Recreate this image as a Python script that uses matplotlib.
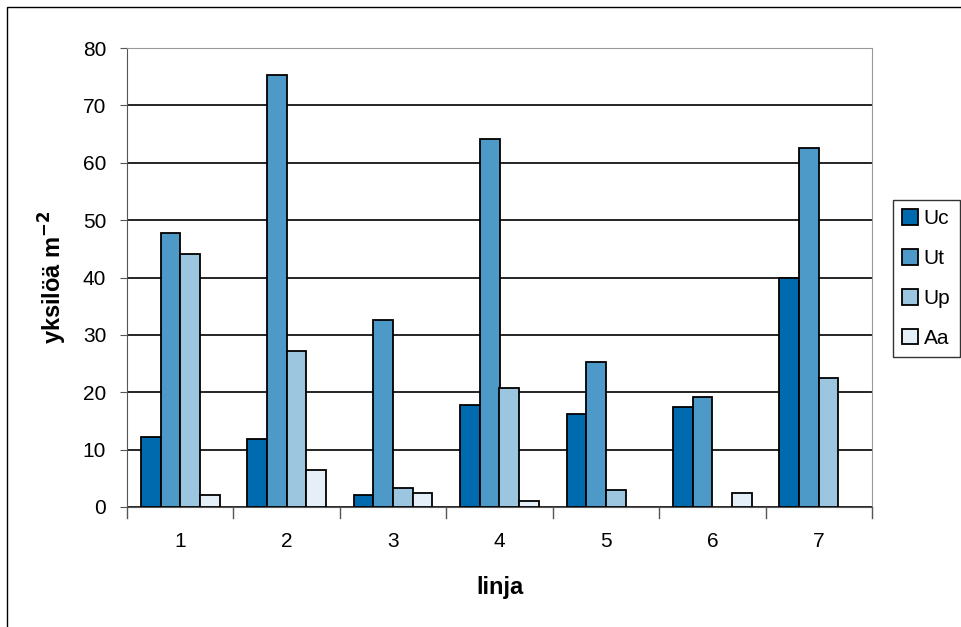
import numpy as np
import matplotlib.pyplot as plt
from matplotlib.patches import Rectangle

plt.rcParams['font.family'] = ['Liberation Sans', 'DejaVu Sans']

linjat = ["1", "2", "3", "4", "5", "6", "7"]
series = ["Uc", "Ut", "Up", "Aa"]
uc = [12.2, 11.8, 2.1, 17.8, 16.2, 17.4, 39.9]
ut = [47.7, 75.3, 32.6, 64.1, 25.3, 19.2, 62.5]
up = [44.1, 27.2, 3.3, 20.7, 3.0, 0.0, 22.5]
aa = [2.1, 6.4, 2.4, 1.0, 0.0, 2.4, 0.0]
colors = ["#006AAE", "#4D9AC8", "#9CC5E0", "#E4EFF7"]

fig = plt.figure(figsize=(9.62, 6.27), dpi=100)
ax = fig.add_axes([127 / 962, 1 - 507 / 627, 745 / 962, 459 / 627])

x = np.arange(len(linjat))
w = 0.185
for i, (name, vals) in enumerate(zip(series, [uc, ut, up, aa])):
    xs = x + (i - 1.5) * w
    v = np.array(vals)
    keep = v > 0
    ax.bar(xs[keep], v[keep], width=w, color=colors[i], edgecolor="black",
           linewidth=1.3, label=name, zorder=3)

ax.set_xlim(-0.5, 6.5)
ax.set_ylim(0, 80)
ax.set_yticks(range(0, 81, 10))
ax.set_xticks(x)
ax.set_xticklabels(linjat)
ax.yaxis.grid(True, color="black", linewidth=1.2, zorder=0)
ax.tick_params(axis="both", labelsize=15, length=5, color="#555555")
ax.tick_params(axis="y", pad=10)
ax.tick_params(axis="x", length=0, pad=18)
# category separators on x axis
for b in np.arange(-0.5, 7, 1):
    ax.plot([b, b], [0, -1.9], color="#555555", lw=1, clip_on=False)
for s in ["top", "right"]:
    ax.spines[s].set_color("#999999")
ax.spines["left"].set_color("#555555")
ax.spines["bottom"].set_color("#555555")

ax.set_xlabel("linja", fontsize=17, fontweight="bold", labelpad=18)
ax.set_ylabel("yksilöä m$^{\\mathbf{-2}}$", fontsize=17, fontweight="bold", labelpad=10)

leg = ax.legend(loc="upper left", bbox_to_anchor=(893 / 962, 1 - 200 / 627),
                bbox_transform=fig.transFigure, frameon=True, fancybox=False,
                fontsize=15, handlelength=0.77, handleheight=0.77, handletextpad=0.25,
                labelspacing=1.0, borderpad=0.45, borderaxespad=0)
leg.get_frame().set_edgecolor("black")
leg.get_frame().set_linewidth(1)

fig.patches.append(Rectangle((7 / 962, -0.01), 1.02, 1 - 7 / 627 + 0.01,
                             transform=fig.transFigure, fill=False,
                             edgecolor="black", linewidth=1))

fig.savefig("out.png", dpi=100)
